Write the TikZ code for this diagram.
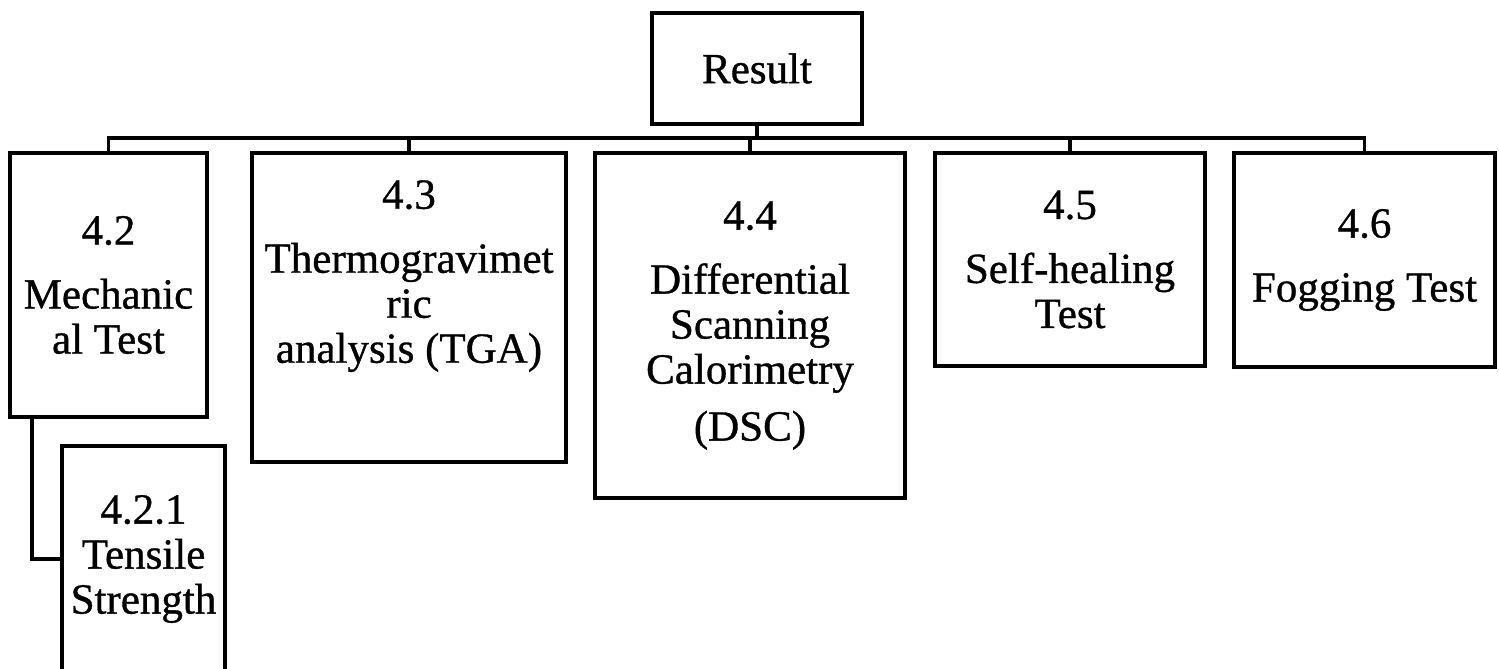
\documentclass[tikz,border=0pt]{standalone}
\usepackage{fontspec}
\setmainfont[FakeBold=0.8]{Liberation Serif}
\usetikzlibrary{positioning}

\begin{document}
\begin{tikzpicture}[
    x=0.5pt, y=-0.5pt,
    every node/.style={text=black},
    resbox/.style={draw, line width=2pt, align=center, inner sep=0pt,
        font=\fontsize{21.5pt}{22.5pt}\selectfont},
    link/.style={line width=1.8pt}
]

    \useasboundingbox (0,0) rectangle (1499,669);
    \clip (0,0) rectangle (1499,669);

    % ==========================
    % TOP: the result box
    % ==========================
    \node[resbox, minimum width=105pt, minimum height=55.5pt] (res) at (757,68.5) {Result};

    % ==========================
    % SECOND ROW: one box per section
    % ==========================
    \node[resbox, minimum width=98.5pt, minimum height=132pt] (mech) at (108.5,285)
        {4.2\\[9.5pt]Mechanic\\al Test};
    \node[resbox, minimum width=157pt, minimum height=154.5pt, text depth=36pt] (tga) at (409,307.5)
        {4.3\\[9.5pt]Thermogravimet\\ric\\analysis (TGA)};
    \node[resbox, minimum width=155pt, minimum height=172.5pt] (dsc) at (750,325.5)
        {4.4\\[9.5pt]Differential\\Scanning\\Calorimetry\\[6pt](DSC)};
    \node[resbox, minimum width=135pt, minimum height=106.5pt] (heal) at (1070,259.5)
        {4.5\\[9.5pt]Self-healing\\Test};
    \node[resbox, minimum width=130.5pt, minimum height=107pt] (fog) at (1364.5,260)
        {4.6\\[9.5pt]Fogging Test};

    % sub-section under 4.2 (runs off the bottom edge)
    \node[resbox, minimum width=81.5pt, minimum height=113pt] (tens) at (143.5,559)
        {4.2.1\\Tensile\\Strength};

    % ==========================
    % CONNECTORS
    % ==========================
    \coordinate (bus) at (757,138);
    \draw[link] (res.south) -- (res.south |- bus);
    \draw[link] (mech.north) -- (mech.north |- bus) -- (fog.north |- bus) -- (fog.north);
    \foreach \n in {tga, dsc, heal}
        \draw[link] (\n.north) -- (\n.north |- bus);

    % 4.2 down to 4.2.1
    \coordinate (mechfoot) at ([xshift=-38.25pt]mech.south);
    \draw[link] (mechfoot) |- (tens.west);

\end{tikzpicture}
\end{document}
